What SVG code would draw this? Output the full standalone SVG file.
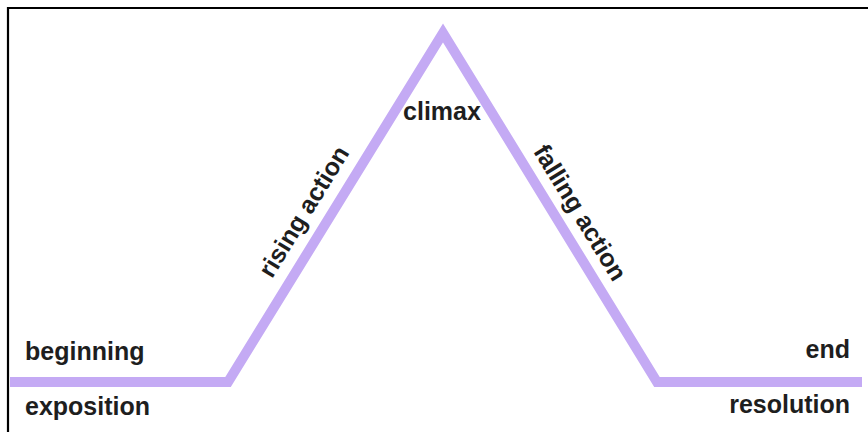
<svg xmlns="http://www.w3.org/2000/svg" width="868" height="432" viewBox="0 0 868 432">
<style>
.lbl{font-family:"Liberation Sans",Arial,sans-serif;font-weight:bold;font-size:25px;fill:#1e1e1e}
.arc{fill:none;stroke:#c4aaf4;stroke-width:10;stroke-linejoin:miter}
.frame{stroke:#000;stroke-width:2.2;fill:none}
</style>
<rect width="868" height="432" fill="#fff"/>
<g id="frame">
<line class="frame" x1="7" y1="8" x2="868" y2="8"/>
<line class="frame" x1="8" y1="7" x2="8" y2="432"/>
</g>
<g id="connectors">
<polyline class="arc" points="10,382 228,382 443,33 657,382 862,382"/>
</g>
<g id="beginning"><text class="lbl" x="25" y="360">beginning</text></g>
<g id="exposition"><text class="lbl" x="25" y="415">exposition</text></g>
<g id="climax"><text class="lbl" x="442" y="120" text-anchor="middle">climax</text></g>
<g id="rising"><text class="lbl" text-anchor="middle" transform="translate(311,216) rotate(-58.4)">rising action</text></g>
<g id="falling"><text class="lbl" text-anchor="middle" transform="translate(573,217) rotate(58.5)">falling action</text></g>
<g id="end"><text class="lbl" x="850" y="358" text-anchor="end">end</text></g>
<g id="resolution"><text class="lbl" x="850" y="413" text-anchor="end">resolution</text></g>
</svg>
